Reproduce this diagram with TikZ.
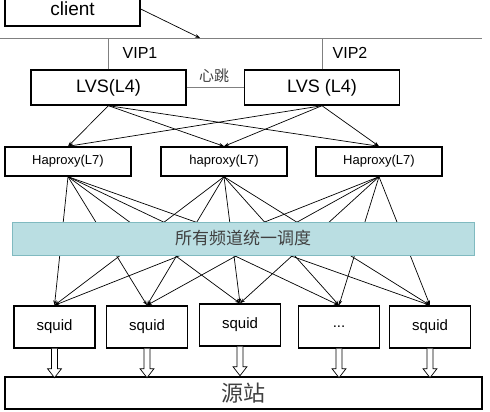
\documentclass[tikz,border=0pt]{standalone}
\usepackage{fontspec}
\setmainfont{Liberation Sans}
\newfontfamily\cjk{Noto Sans CJK SC}
\usetikzlibrary{arrows.meta}
\definecolor{bandfill}{RGB}{186,222,226}
\definecolor{bandline}{RGB}{128,186,192}
\tikzset{
  box/.style={draw, line width=1.4pt, rectangle, inner sep=0pt},
  lvsbox/.style={box, minimum width=155, minimum height=35, font=\fontsize{18}{20}\selectfont},
  hapbox/.style={box, minimum width=126, minimum height=29, font=\fontsize{13}{15}\selectfont},
  sqbox/.style={box, minimum width=81, minimum height=42, font=\fontsize{15}{17}\selectfont},
  link/.style={line width=0.7pt, -{Stealth[length=5pt,width=3.5pt]}},
  hollow/.style={draw, line width=0.7pt, fill=white}
}
\begin{document}
\begin{tikzpicture}[x=1pt, y=-1pt]
  \useasboundingbox (0,0) rectangle (490,412);
  % client and bus
  \node[box, minimum width=135, minimum height=34, font=\fontsize{19}{21}\selectfont] (client) at (72.5,9) {client};
  \coordinate (busL) at (0,38);
  \coordinate (busR) at (482,38);
  \coordinate (hit) at (200,38);
  \draw[line width=0.6pt, gray] (busL) -- (busR);
  \draw[link] (client.east) -- (hit);
  % LVS pair
  \node[lvsbox] (lvsA) at (108.5,87.5) {LVS(L4)};
  \node[lvsbox] (lvsB) at (322,87.5) {LVS (L4)};
  \draw[gray, line width=0.8pt] (lvsA.north) -- (lvsA.north |- busL);
  \draw[gray, line width=0.8pt] (lvsB.north) -- (lvsB.north |- busL);
  \node[font=\fontsize{16}{18}\selectfont] (vipA) at (140,53) {VIP1};
  \node[font=\fontsize{16}{18}\selectfont] (vipB) at (350,53) {VIP2};
  \draw[gray, line width=0.8pt] (lvsA.east) -- (lvsB.west);
  \node[font=\cjk\fontsize{15}{17}\selectfont, text=darkgray] (beat) at (214,76) {心跳};
  % haproxy layer
  \node[hapbox] (hapA) at (68,161.5) {Haproxy(L7)};
  \node[hapbox] (hapB) at (224,161.5) {haproxy(L7)};
  \node[hapbox] (hapC) at (379,161.5) {Haproxy(L7)};
  \foreach \l in {lvsA,lvsB}
    \foreach \h in {hapA,hapB,hapC}
      \draw[link] (\l.south) -- (\h.north);
  % squid layer
  \node[sqbox] (sqA) at (54.5,327) {squid};
  \node[sqbox] (sqB) at (147,327) {squid};
  \node[sqbox] (sqC) at (240,325) {squid};
  \node[sqbox] (sqD) at (339,327) {...};
  \node[sqbox] (sqE) at (430,327) {squid};
  \foreach \h in {hapA,hapB,hapC}
    \foreach \s in {sqA,sqB,sqC,sqD,sqE}
      \draw[link] (\h.south) -- (\s.north);
  % scheduling band over the links
  \node[draw=bandline, fill=bandfill, line width=1pt, minimum width=462, minimum height=33,
        font=\cjk\fontsize{17}{19}\selectfont, text=black!75] (band) at (243,238.5) {所有频道统一调度};
  % origin
  \node[box, minimum width=477, minimum height=32, font=\cjk\fontsize{22}{24}\selectfont, text=black!75] (origin) at (243.5,393) {源站};
  \foreach \s in {sqA,sqB,sqC,sqD,sqE}
    \draw[hollow, shift={(\s.south)}] (-3,0) -- (-3,20) -- (-7,20) -- (0,29) -- (7,20) -- (3,20) -- (3,0);
\end{tikzpicture}
\end{document}
